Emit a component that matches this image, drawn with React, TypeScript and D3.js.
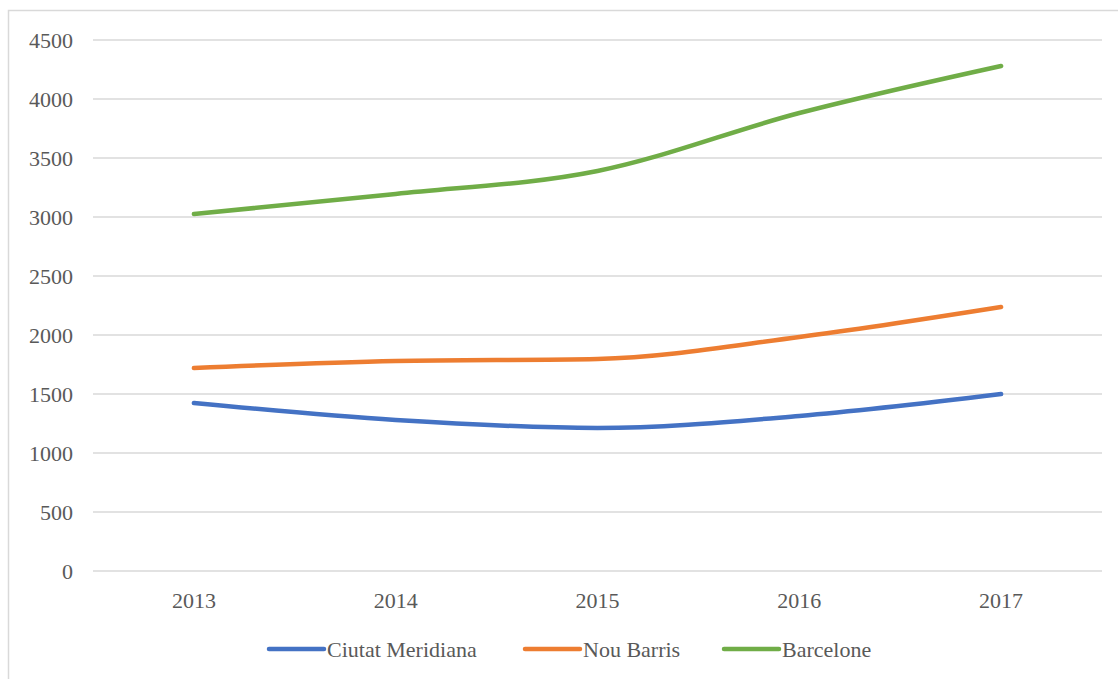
import React from 'react';
import * as d3 from 'd3';

const years = ['2013', '2014', '2015', '2016', '2017'];
const ciutatMeridiana = [1424, 1280, 1212, 1314, 1500];
const nouBarris = [1720, 1780, 1797, 1983, 2237];
const barcelone = [3025, 3195, 3390, 3881, 4280];
const yTicks = [0, 500, 1000, 1500, 2000, 2500, 3000, 3500, 4000, 4500];

const series = [
  { name: 'Ciutat Meridiana', values: ciutatMeridiana, color: '#4472C4' },
  { name: 'Nou Barris', values: nouBarris, color: '#ED7D31' },
  { name: 'Barcelone', values: barcelone, color: '#70AD47' },
];

const W = 1118;
const H = 679;
const textStyle: React.CSSProperties = {
  fontFamily: "'Liberation Serif', 'DejaVu Serif', 'Times New Roman', serif",
  fontSize: 22,
  fill: '#595959',
};

const App: React.FC = () => {
  const x = d3.scaleBand<string>().domain(years).range([93, 1102]);
  const y = d3.scaleLinear().domain([0, 4500]).range([571, 40]);

  const line = d3
    .line<number>()
    .x((_, i) => (x(years[i]) || 0) + x.bandwidth() / 2)
    .y(d => y(d))
    .curve(d3.curveMonotoneX);

  // legend swatch starts
  const legendX = [269, 525, 724];
  const legendY = 649;

  return (
    <svg
      width={W}
      height={H}
      style={{ position: 'absolute', left: 0, top: 0, background: '#fff' }}
    >
      <rect x={8.5} y={10.5} width={W} height={H} fill="none" stroke="#d9d9d9" strokeWidth={1.5} />

      {yTicks.map(t => (
        <g key={t}>
          <line x1={93} x2={1102} y1={y(t)} y2={y(t)} stroke="#d9d9d9" strokeWidth={1.3} />
          <text x={73} y={y(t)} dy="0.35em" textAnchor="end" style={textStyle}>
            {t}
          </text>
        </g>
      ))}

      {years.map(yr => (
        <text
          key={yr}
          x={(x(yr) || 0) + x.bandwidth() / 2}
          y={600}
          dy="0.35em"
          textAnchor="middle"
          style={textStyle}
        >
          {yr}
        </text>
      ))}

      {series.map(s => (
        <path
          key={s.name}
          d={line(s.values) || ''}
          fill="none"
          stroke={s.color}
          strokeWidth={4.5}
          strokeLinecap="round"
          strokeLinejoin="round"
        />
      ))}

      {series.map((s, i) => (
        <g key={s.name}>
          <line
            x1={legendX[i]}
            x2={legendX[i] + 55}
            y1={legendY}
            y2={legendY}
            stroke={s.color}
            strokeWidth={4.5}
            strokeLinecap="round"
          />
          <text x={legendX[i] + 58} y={legendY} dy="0.35em" style={textStyle}>
            {s.name}
          </text>
        </g>
      ))}
    </svg>
  );
};

export default App;
